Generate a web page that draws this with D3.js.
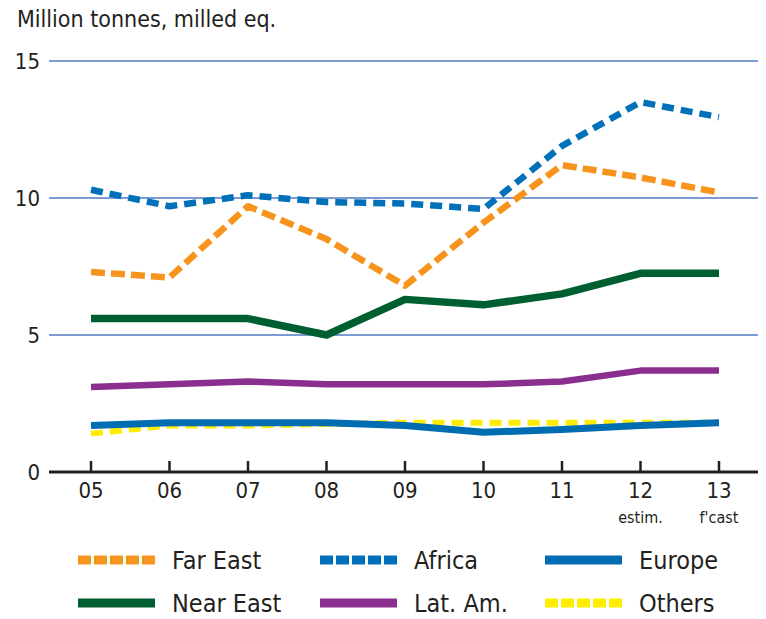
<!DOCTYPE html>
<html>
<head>
<meta charset="utf-8">
<script src="https://cdn.jsdelivr.net/npm/d3@7"></script>
<style>
  body { margin: 0; background: #fff; }
  text { font-family: "Liberation Sans Narrow", "DejaVu Sans Condensed", "Arial Narrow", sans-serif; fill: #231f20; }
</style>
</head>
<body>
<div id="chart"></div>
<script>
// x categories (years) and the small notes under the last two
var years = ["05", "06", "07", "08", "09", "10", "11", "12", "13"];
var yearNotes = ["", "", "", "", "", "", "", "estim.", "f'cast"];
var yTicks = [0, 5, 10, 15];

// series values, million tonnes milled eq.
var farEast  = [7.3, 7.1, 9.7, 8.5, 6.8, 9.1, 11.2, 10.75, 10.2];
var africa   = [10.3, 9.7, 10.1, 9.85, 9.8, 9.6, 11.9, 13.5, 12.95];
var europe   = [1.7, 1.8, 1.8, 1.8, 1.7, 1.45, 1.55, 1.7, 1.8];
var nearEast = [5.6, 5.6, 5.6, 5.0, 6.3, 6.1, 6.5, 7.25, 7.25];
var latAm    = [3.1, 3.2, 3.3, 3.2, 3.2, 3.2, 3.3, 3.7, 3.7];
var others   = [1.4, 1.7, 1.7, 1.75, 1.8, 1.8, 1.8, 1.8, 1.8];

var seriesNames = ["Far East", "Africa", "Europe", "Near East", "Lat. Am.", "Others"];

var width = 766, height = 619;

var svg = d3.select("#chart").append("svg")
    .attr("width", width)
    .attr("height", height);

// scales
var x = d3.scalePoint()
    .domain(years)
    .range([91, 719]);

var y = d3.scaleLinear()
    .domain([0, 15])
    .range([472, 61]);

// line styles per series
var styles = {
  "Far East":  { color: "#f7941d", dash: "14,6", width: 6.5, data: farEast },
  "Africa":    { color: "#0070b8", dash: "12,7", width: 6.5, data: africa },
  "Europe":    { color: "#006db2", dash: null,   width: 7,   data: europe },
  "Near East": { color: "#005f30", dash: null,   width: 7.5, data: nearEast },
  "Lat. Am.":  { color: "#8b2f8e", dash: null,   width: 6.5, data: latAm },
  "Others":    { color: "#ffed00", dash: "12,7", width: 6,   data: others }
};

// title
svg.append("text")
    .attr("x", 17)
    .attr("y", 27)
    .style("font-size", "23px")
    .text("Million tonnes, milled eq.");

// gridlines
svg.selectAll(".grid")
    .data(yTicks.filter(function(d) { return d > 0; }))
    .enter().append("line")
    .attr("x1", 49).attr("x2", 758)
    .attr("y1", function(d) { return y(d); })
    .attr("y2", function(d) { return y(d); })
    .attr("stroke", "#7b9bd2")
    .attr("stroke-width", 2);

// y labels
svg.selectAll(".ylab")
    .data(yTicks)
    .enter().append("text")
    .attr("x", 40)
    .attr("y", function(d) { return y(d); })
    .attr("dy", "0.36em")
    .attr("text-anchor", "end")
    .style("font-size", "22px")
    .text(function(d) { return d; });

// x axis line
svg.append("line")
    .attr("x1", 49).attr("x2", 758)
    .attr("y1", y(0)).attr("y2", y(0))
    .attr("stroke", "#231f20")
    .attr("stroke-width", 3);

// ticks point up
svg.selectAll(".tick")
    .data(years)
    .enter().append("line")
    .attr("x1", function(d) { return x(d); })
    .attr("x2", function(d) { return x(d); })
    .attr("y1", y(0))
    .attr("y2", y(0) - 11)
    .attr("stroke", "#231f20")
    .attr("stroke-width", 2.5);

svg.selectAll(".xlab")
    .data(years)
    .enter().append("text")
    .attr("x", function(d) { return x(d); })
    .attr("y", 498)
    .attr("text-anchor", "middle")
    .style("font-size", "22px")
    .text(function(d) { return d; });

svg.selectAll(".xnote")
    .data(years)
    .enter().append("text")
    .attr("x", function(d) { return x(d); })
    .attr("y", 523)
    .attr("text-anchor", "middle")
    .style("font-size", "16px")
    .text(function(d, i) { return yearNotes[i]; });

// lines
var line = d3.line()
    .x(function(d, i) { return x(years[i]); })
    .y(function(d) { return y(d); });

var drawOrder = ["Lat. Am.", "Others", "Europe", "Near East", "Far East", "Africa"];

drawOrder.forEach(function(name) {
  var s = styles[name];
  svg.append("path")
      .datum(s.data)
      .attr("d", line)
      .attr("fill", "none")
      .attr("stroke", s.color)
      .attr("stroke-width", s.width)
      .attr("stroke-linejoin", "round")
      .attr("stroke-dasharray", s.dash);
});

// legend, 3 columns x 2 rows
var legX = [78, 320, 545];
var legY = [560, 603];

var leg = svg.selectAll(".leg")
    .data(seriesNames)
    .enter().append("g")
    .attr("transform", function(d, i) {
      return "translate(" + legX[i % 3] + "," + legY[Math.floor(i / 3)] + ")";
    });

leg.append("line")
    .attr("x1", 0).attr("x2", 77)
    .attr("y1", 0).attr("y2", 0)
    .attr("stroke", function(d) { return styles[d].color; })
    .attr("stroke-width", 9)
    .attr("stroke-dasharray", function(d) { return styles[d].dash ? "13,3" : null; });

leg.append("text")
    .attr("x", 94)
    .attr("y", 0)
    .attr("dy", "0.35em")
    .style("font-size", "25px")
    .text(function(d) { return d; });
</script>
</body>
</html>
